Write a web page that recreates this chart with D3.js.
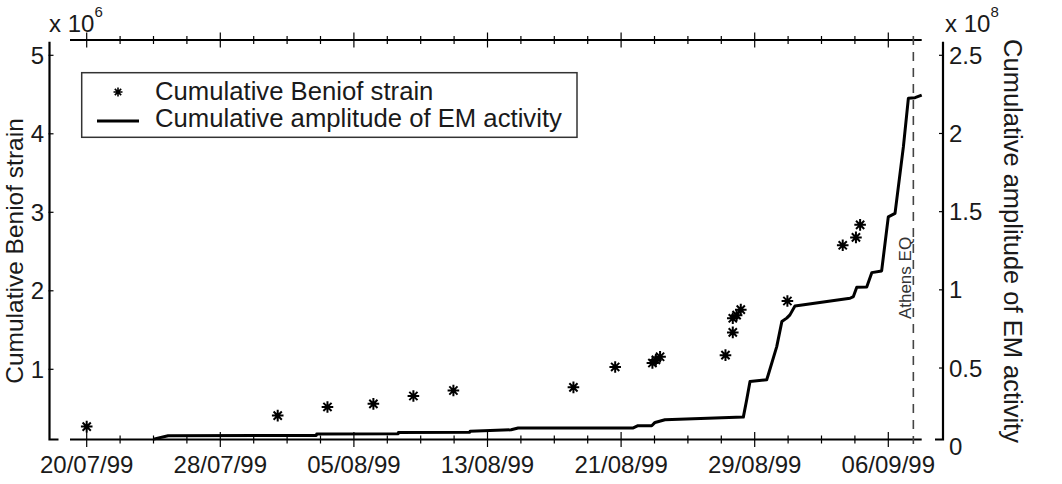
<!DOCTYPE html>
<html>
<head>
<meta charset="utf-8">
<script src="https://cdn.jsdelivr.net/npm/d3@7"></script>
<style>
  html, body { margin: 0; padding: 0; background: #fff; }
  svg { display: block; }
  text { font-family: "Liberation Sans", Arial, sans-serif; fill: #1a1a1a; }
</style>
</head>
<body>
<svg id="chart" width="1062" height="484"></svg>
<script>
// ---- data ----
const benioffTimes = [
  "1999-07-20T00:00", "1999-07-31T10:30", "1999-08-03T10:00", "1999-08-06T04:00",
  "1999-08-08T13:30", "1999-08-10T23:00", "1999-08-18T03:30", "1999-08-20T15:30",
  "1999-08-22T21:00", "1999-08-23T02:00", "1999-08-23T08:00", "1999-08-27T06:00",
  "1999-08-27T16:30", "1999-08-27T16:30", "1999-08-27T22:00", "1999-08-28T04:00",
  "1999-08-30T23:00", "1999-09-03T06:30", "1999-09-04T01:30", "1999-09-04T07:30"
];
const benioffValues = [ // x 10^6
  0.27, 0.41, 0.52, 0.56, 0.66, 0.73, 0.77, 1.03, 1.08, 1.12, 1.16, 1.18,
  1.47, 1.65, 1.69, 1.76, 1.87, 2.58, 2.68, 2.84
];
const emTimes = [
  "1999-07-24T00:00", "1999-07-24T21:00", "1999-08-02T18:00", "1999-08-02T18:30",
  "1999-08-07T15:30", "1999-08-07T16:00", "1999-08-11T22:30", "1999-08-11T23:00",
  "1999-08-14T10:00", "1999-08-14T20:00", "1999-08-21T17:30", "1999-08-22T00:15",
  "1999-08-22T20:00", "1999-08-23T00:45", "1999-08-23T15:00", "1999-08-28T07:40",
  "1999-08-28T12:30", "1999-08-28T17:15", "1999-08-29T17:15", "1999-08-29T19:30",
  "1999-08-30T07:40", "1999-08-30T15:00", "1999-08-30T22:00", "1999-08-31T02:40",
  "1999-08-31T09:50", "1999-09-03T17:00", "1999-09-03T21:50", "1999-09-04T02:40",
  "1999-09-04T17:00", "1999-09-05T00:15", "1999-09-05T14:25", "1999-09-06T00:00",
  "1999-09-06T09:40", "1999-09-06T21:40", "1999-09-07T04:50", "1999-09-07T14:25",
  "1999-09-08T00:00"
];
const emValues = [ // x 10^8
  0.045, 0.067, 0.069, 0.078, 0.079, 0.088, 0.089, 0.095, 0.105, 0.116, 0.117, 0.131,
  0.131, 0.152, 0.169, 0.186, 0.297, 0.414, 0.425, 0.457, 0.637, 0.797, 0.819, 0.840,
  0.897, 0.946, 0.957, 1.017, 1.018, 1.110, 1.121, 1.467, 1.489, 1.914, 2.225, 2.229,
  2.245
];
const xTickDates = ["1999-07-20", "1999-07-28", "1999-08-05", "1999-08-13", "1999-08-21", "1999-08-29", "1999-09-06"];
const xTickLabels = ["20/07/99", "28/07/99", "05/08/99", "13/08/99", "21/08/99", "29/08/99", "06/09/99"];
const leftTicks = [1, 2, 3, 4, 5];
const rightTicks = [0, 0.5, 1, 1.5, 2, 2.5];
const rightTickLabels = ["0", "0.5", "1", "1.5", "2", "2.5"];
const quakeTime = "1999-09-07T12:00";
const seriesNames = ["Cumulative Beniof strain", "Cumulative amplitude of EM activity"];

// ---- chart ----
const svg = d3.select("#chart");

const x = d3.scaleTime()
  .domain([new Date(1999, 6, 19), new Date(1999, 8, 8)])
  .range([70, 921.7]);
const yL = d3.scaleLinear().domain([0, 5]).range([447.8, 55.3]);
const yR = d3.scaleLinear().domain([0, 2.5]).range([446.2, 55.3]);

const pTime = s => { const [d, t] = s.split("T"); const [Y, M, D] = d.split("-").map(Number); let h = 0, m = 0; if (t) { [h, m] = t.split(":").map(Number); } return new Date(Y, M - 1, D, h, m); };

const axisTop = 40, axisBottom = 439.5, leftX = 49.5, rightX = 943;

// minor ticks every 2 days
const minorDates = d3.timeDay.every(1).range(new Date(1999, 6, 20), new Date(1999, 8, 7)).filter((d, i) => i % 2 === 0);
const majorSet = new Set(xTickDates.map(s => +pTime(s)));

// horizontal axis lines
const g = svg.append("g").attr("stroke", "#000").attr("fill", "none");
g.append("line").attr("x1", x.range()[0]).attr("x2", x.range()[1]).attr("y1", axisTop).attr("y2", axisTop).attr("stroke-width", 2.2);
g.append("line").attr("x1", x.range()[0]).attr("x2", x.range()[1]).attr("y1", axisBottom).attr("y2", axisBottom).attr("stroke-width", 2.2);

[axisTop, axisBottom].forEach(yy => {
  g.selectAll(null).data(minorDates).enter().append("line")
    .attr("x1", d => x(d)).attr("x2", d => x(d))
    .attr("y1", d => majorSet.has(+d) ? yy - 7.5 : yy - 4)
    .attr("y2", d => majorSet.has(+d) ? yy + 7.5 : yy + 4)
    .attr("stroke-width", 1.2);
});

// vertical axes with feet
g.append("path").attr("d", `M${leftX},${axisTop + 1.7}V${axisBottom}H${leftX + 9}`).attr("stroke-width", 2.2);
g.append("path").attr("d", `M${rightX},${axisTop + 1.7}V${axisBottom}H${rightX - 8}`).attr("stroke-width", 2.2);

g.selectAll(null).data(leftTicks).enter().append("line")
  .attr("x1", leftX - 1).attr("x2", leftX + 4).attr("y1", d => yL(d)).attr("y2", d => yL(d)).attr("stroke-width", 1.2);
g.selectAll(null).data(rightTicks.filter(d => yR(d) < axisBottom)).enter().append("line")
  .attr("x1", rightX - 4).attr("x2", rightX + 1).attr("y1", d => yR(d)).attr("y2", d => yR(d)).attr("stroke-width", 1.2);

// tick labels
svg.selectAll(null).data(xTickDates).enter().append("text")
  .attr("x", d => x(pTime(d))).attr("y", 473).attr("text-anchor", "middle")
  .attr("font-size", 24).text((d, i) => xTickLabels[i]);
svg.selectAll(null).data(leftTicks).enter().append("text")
  .attr("x", 44).attr("y", d => yL(d) + 8.5).attr("text-anchor", "end")
  .attr("font-size", 24).text(d => d);
svg.selectAll(null).data(rightTicks).enter().append("text")
  .attr("x", 949).attr("y", d => yR(d) + 8.5).attr("text-anchor", "start")
  .attr("font-size", 24).text((d, i) => rightTickLabels[i]);

// exponent labels
const expL = svg.append("text").attr("x", 49).attr("y", 32).attr("font-size", 24);
expL.append("tspan").text("x 10");
expL.append("tspan").attr("dy", -15).attr("font-size", 15).text("6");
const expR = svg.append("text").attr("x", 945).attr("y", 32).attr("font-size", 24);
expR.append("tspan").text("x 10");
expR.append("tspan").attr("dy", -15).attr("font-size", 15).text("8");

// axis titles
svg.append("text").attr("transform", "translate(22.5,251) rotate(-90)")
  .attr("text-anchor", "middle").attr("font-size", 24.5).text("Cumulative Beniof strain");
svg.append("text").attr("transform", "translate(1004,241) rotate(90)")
  .attr("text-anchor", "middle").attr("font-size", 25.5).text("Cumulative amplitude of EM activity");

// earthquake marker
const xq = x(pTime(quakeTime));
svg.append("line").attr("x1", xq).attr("x2", xq).attr("y1", 36).attr("y2", 444)
  .attr("stroke", "#444").attr("stroke-width", 1.6).attr("stroke-dasharray", "9,7");
svg.append("text").attr("transform", `translate(${xq - 2},278) rotate(-90)`)
  .attr("text-anchor", "middle").attr("font-size", 17).style("fill", "#333").text("Athens EQ");

// EM line
const emData = emTimes.map((t, i) => ({ t: pTime(t), v: emValues[i] }));
svg.append("path").datum(emData)
  .attr("d", d3.line().x(d => x(d.t)).y(d => yR(d.v)))
  .attr("fill", "none").attr("stroke", "#000").attr("stroke-width", 3).attr("stroke-linejoin", "round");

// star markers
const starPath = r => {
  const a = r * Math.SQRT1_2;
  return `M${-r},0H${r}M0,${-r}V${r}M${-a},${-a}L${a},${a}M${-a},${a}L${a},${-a}`;
};
const bData = benioffTimes.map((t, i) => ({ t: pTime(t), v: benioffValues[i] }));
svg.selectAll(null).data(bData).enter().append("path")
  .attr("transform", d => `translate(${x(d.t)},${yL(d.v)})`)
  .attr("d", starPath(5.8)).attr("stroke", "#000").attr("stroke-width", 2).attr("fill", "none");

// legend
svg.append("rect").attr("x", 81.7).attr("y", 72.7).attr("width", 495.3).attr("height", 64.6)
  .attr("fill", "#fff").attr("stroke", "#333").attr("stroke-width", 1.5);
svg.append("path").attr("transform", "translate(118,92)").attr("d", starPath(4.5))
  .attr("stroke", "#000").attr("stroke-width", 1.6).attr("fill", "none");
svg.append("line").attr("x1", 97).attr("x2", 139).attr("y1", 121).attr("y2", 121)
  .attr("stroke", "#000").attr("stroke-width", 3);
svg.append("text").attr("x", 155).attr("y", 99.5).attr("font-size", 25.7).text(seriesNames[0]);
svg.append("text").attr("x", 155).attr("y", 127).attr("font-size", 25.7).text(seriesNames[1]);
</script>
</body>
</html>
